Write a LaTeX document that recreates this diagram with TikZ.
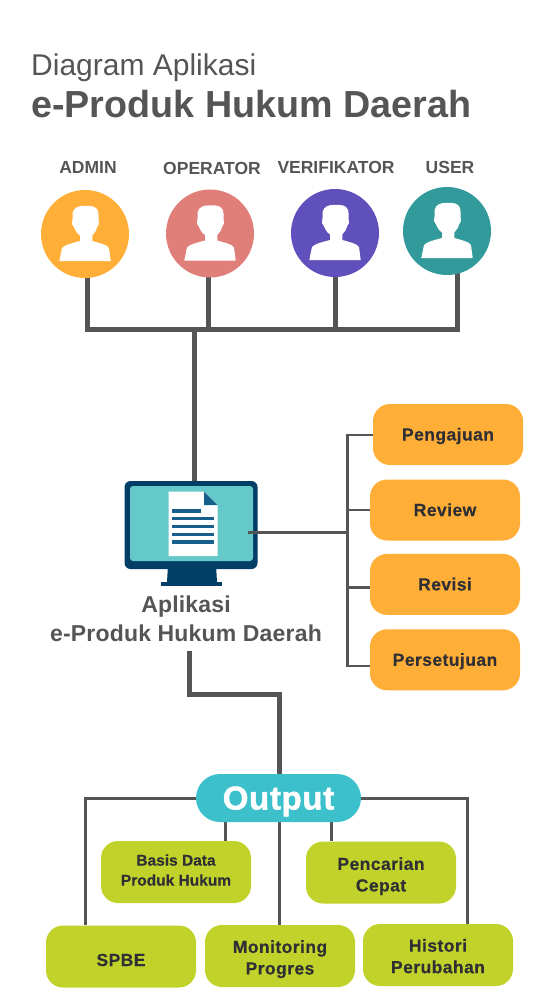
\documentclass[tikz,border=0pt]{standalone}
\usepackage{fontspec}
\setmainfont{Liberation Sans}
\usetikzlibrary{positioning, calc, backgrounds}
\definecolor{inkgray}{RGB}{85, 85, 85}
\definecolor{inkdark}{RGB}{48, 48, 52}
\definecolor{amber}{RGB}{255, 174, 55}
\definecolor{salmon}{RGB}{224, 127, 122}
\definecolor{violet}{RGB}{96, 80, 188}
\definecolor{teal}{RGB}{50, 154, 154}
\definecolor{navy}{RGB}{3, 62, 102}
\definecolor{screen}{RGB}{102, 201, 201}
\definecolor{docblue}{RGB}{24, 96, 140}
\definecolor{cyan}{RGB}{60, 193, 204}
\definecolor{lime}{RGB}{193, 211, 43}
\newcommand{\boxfont}{\bfseries\addfontfeature{LetterSpace=2.5,FakeBold=0.4}}

\begin{document}
\begin{tikzpicture}[
        x=1pt, y=-1pt,
        node distance=14pt,
        role/.style={circle, minimum size=88pt, inner sep=0pt},
        rolelabel/.style={font=\fontsize{17.5}{20}\selectfont\bfseries, text=inkgray},
        stepbox/.style={rectangle, rounded corners=17pt, fill=amber, text=inkdark,
                      minimum width=150pt, minimum height=61pt, inner sep=0pt,
                      text height=12pt, text depth=0pt,
                      align=center, font=\fontsize{17.5}{20}\selectfont\boxfont},
        outbox/.style={rectangle, rounded corners=17pt, fill=lime, text=inkdark,
                      minimum width=150pt, minimum height=62pt, inner sep=0pt,
                      align=center, font=\fontsize{17.5}{21.5}\selectfont\boxfont},
        thickline/.style={inkgray, line width=5pt},
        midline/.style={inkgray, line width=3pt},
        person/.pic={
            \fill[white] (-25.7,27) -- (-23,14) .. controls (-20,10.5) and (-12,9) .. (-5,7)
                -- (-5,1.5) .. controls (-9,-1) and (-10,-5) .. (-11.5,-7.5)
                -- (-13,-10) -- (-12.5,-15) -- (-12.5,-21) .. controls (-11,-27) and (-6,-28) .. (-2,-28)
                -- (5,-28) .. controls (10,-28) and (13.5,-25) .. (13.5,-20)
                -- (13.5,-15) -- (14,-10) -- (12.5,-7.5) .. controls (11.5,-4) and (10,-1) .. (7.3,1.5)
                -- (7.3,7) .. controls (14,9) and (22,10.5) .. (24,14) -- (25.7,27) -- cycle;
        },
    ]
    \useasboundingbox (0,0) rectangle (559,1000);

    % title
    \node[anchor=base west, inner sep=0pt, text=inkgray, font=\fontsize{30}{34}\selectfont] (title) at (31,75.5) {Diagram Aplikasi};
    \node[anchor=base west, inner sep=0pt, text=inkgray, font=\fontsize{37.7}{42}\selectfont\bfseries] (subtitle) at (31,118) {e-Produk Hukum Daerah};

    % roles
    \node[role, fill=amber] (admin) at (85,234) {};
    \node[role, fill=salmon] (operator) at (210,233.5) {};
    \node[role, fill=violet] (verifikator) at (335,233) {};
    \node[role, fill=teal] (user) at (447,231) {};
    \pic at (admin) {person};
    \pic at (operator) {person};
    \pic at (verifikator) {person};
    \pic at (user) {person};
    \node[rolelabel] (adminlabel) at (88,167.5) {ADMIN};
    \node[rolelabel] (operatorlabel) at (212,168) {OPERATOR};
    \node[rolelabel] (verifikatorlabel) at (336,167) {VERIFIKATOR};
    \node[rolelabel] (userlabel) at (450,167) {USER};

    % monitor
    \node[rectangle, rounded corners=6pt, fill=navy, minimum width=133pt, minimum height=88pt, inner sep=0pt] (monitor) at (191,525) {};
    \fill[navy] (168,565) -- (216,565) -- (217,582) -- (167,582) -- cycle;
    \fill[navy] (161,582) rectangle (222,585.5);
    \fill[screen, rounded corners=3pt] (130,486) rectangle (253,561);
    \fill[white] (168.5,491.7) -- (204,491.7) -- (217.5,505) -- (217.5,556) -- (168.5,556) -- cycle;
    \fill[docblue] (204,491.7) -- (217.5,505) -- (204,505) -- cycle;
    \fill[docblue] (171.7,509) rectangle (200.7,512.7);
    \foreach \ypos in {516.7,524.7,532.7,540.3}
        \fill[docblue] (171.7,\ypos) rectangle (214.3,\ypos+3.6);
    \node[align=center, text=inkgray, font=\fontsize{23}{29}\selectfont\bfseries\addfontfeature{LetterSpace=0.8}] (app) at (186,619) {Aplikasi\\e-Produk Hukum Daerah};

    % steps
    \node[stepbox] (pengajuan) at (448,434.5) {Pengajuan};
    \node[stepbox] (review) at (445,510) {Review};
    \node[stepbox, below=13pt of review] (revisi) {Revisi};
    \node[stepbox, below=of revisi] (persetujuan) {Persetujuan};

    % output
    \node[rectangle, rounded corners=24pt, fill=cyan, text=white, minimum width=165pt, minimum height=48pt, inner sep=0pt,
          text height=23pt, text depth=0pt,
          font=\fontsize{33}{36}\selectfont\bfseries\addfontfeature{LetterSpace=2,FakeBold=1.5}] (output) at (278.5,798) {Output};
    \node[outbox, font=\fontsize{15.5}{20}\selectfont\bfseries\addfontfeature{FakeBold=0.4}] (basis) at (176,872) {Basis Data\\Produk Hukum\rule[-4pt]{0pt}{4pt}};
    \node[outbox] (pencarian) at (381,872.5) {\rule{0pt}{20pt}Pencarian\\Cepat};
    \node[outbox, text height=19pt, text depth=0pt] (spbe) at (121,956.5) {SPBE};
    \node[outbox] (monitoring) at (280,956) {\rule{0pt}{19pt}Monitoring\\Progres};
    \node[outbox] (histori) at (438,955) {\rule{0pt}{15pt}Histori\\Perubahan};

    % connectors
    \coordinate (adminfoot) at (87.5,329.5);
    \coordinate (operatorfoot) at (208,329.5);
    \coordinate (verifikatorfoot) at (335,329.5);
    \coordinate (userfoot) at (457.5,329.5);
    \coordinate (trunk) at (194,329.5);
    \coordinate (appfoot) at (189,651);
    \coordinate (monitorport) at (248,532);
    \coordinate (stepbus) at (347.5,532);
    \begin{scope}[on background layer]
        \draw[thickline] (admin.center -| adminfoot) -- (adminfoot) -- (userfoot) -- (user.center -| userfoot);
        \draw[thickline] (operator.center -| operatorfoot) -- (operatorfoot);
        \draw[thickline] (verifikator.center -| verifikatorfoot) -- (verifikatorfoot);
        \draw[thickline] (trunk) -- (monitor.north -| trunk);
        \draw[thickline] (appfoot) -- ++(0,43.5) -| (output.north -| 279,0);
        \draw[midline, line width=2.5pt] ([yshift=-0.5pt]pengajuan.west) -- ([yshift=-0.5pt]pengajuan.west -| stepbus) -- ([yshift=-6pt]persetujuan.west -| stepbus) -- ([yshift=-6pt]persetujuan.west);
        \draw[midline, line width=2.5pt] (review.west) -- (review.west -| stepbus);
        \draw[midline, line width=2.5pt] ([yshift=-3pt]revisi.west) -- ([yshift=-3pt]revisi.west -| stepbus);
        \draw[midline] (output.west) -| (spbe.north -| 85,0);
        \draw[midline] (output.east) -| (histori.north -| 467,0);
        \draw[midline] (output.south -| 225,0) -- (basis.north -| 225,0);
        \draw[midline] (output.south -| 331,0) -- (pencarian.north -| 331,0);
        \draw[midline] (output.south -| 279,0) -- (monitoring.north -| 279,0);
    \end{scope}
    \draw[midline] (monitorport) -- (stepbus);
\end{tikzpicture}
\end{document}
